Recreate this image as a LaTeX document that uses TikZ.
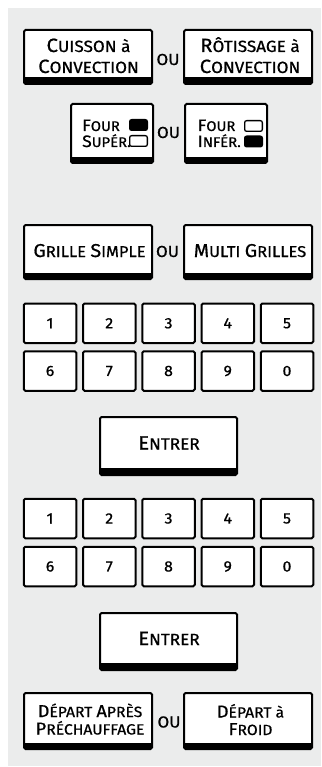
\documentclass[tikz,border=0pt]{standalone}
\usepackage{fontspec}
\setmainfont{Fira Sans}[FakeStretch=1.06, FakeBold=0.7, Numbers=Lining]
\definecolor{panel}{HTML}{EBECEC}
\newcommand\BigA[1]{{\fontsize{19.2pt}{21pt}\selectfont #1}}
\newcommand\BigG[1]{{\fontsize{18.6pt}{21pt}\selectfont #1}}
\newcommand\BigB[1]{{\fontsize{16.5pt}{16pt}\selectfont #1}}
\newcommand\BigC[1]{{\fontsize{17.2pt}{17.5pt}\selectfont #1}}
\begin{document}
\begin{tikzpicture}[x=1pt,y=-1pt,
  btn/.style={draw=black, line width=2pt, fill=white, rounded corners=1.5pt, inner sep=0pt},
  band/.style={path picture={\fill[black, sharp corners] ([yshift=#1]path picture bounding box.south west) rectangle (path picture bounding box.south east);}},
  wide/.style={btn, band=6.5pt, minimum width=128pt, minimum height=54pt},
  four/.style={btn, band=6pt, minimum width=82pt, minimum height=59pt},
  enter/.style={btn, band=7.5pt, minimum width=137pt, minimum height=58pt},
  key/.style={draw=black, line width=2pt, fill=white, rounded corners=1.5pt, inner sep=0pt, minimum width=52.5pt, minimum height=39.5pt, font=\fontsize{15pt}{15pt}\selectfont},
  ind/.style={draw=black, line width=1.3pt, rounded corners=2pt, inner sep=0pt, minimum width=17.7pt, minimum height=10.7pt},
  lblA/.style={inner sep=0pt, align=center, font=\fontsize{16.2pt}{21pt}\selectfont},
  lblG/.style={inner sep=0pt, align=center, font=\fontsize{15.6pt}{21pt}\selectfont},
  lblB/.style={inner sep=0pt, align=left, font=\fontsize{14pt}{16pt}\selectfont},
  lblC/.style={inner sep=0pt, align=center, font=\fontsize{14.8pt}{17.5pt}\selectfont},
  ou/.style={inner sep=0pt, font=\fontsize{16pt}{16pt}\selectfont, anchor=base}
]
\useasboundingbox (0,0) rectangle (321,767);
\fill[panel] (8,8) rectangle (321,766);

% row 1
\node[wide] (cuisson) at (88,57) {};
\node[wide] (rotis) at (248,57) {};
\node[lblA, anchor=base] (cuissonT) at (88.5,73) {\BigA{C}UISSON à\\\BigA{C}ONVECTION};
\node[lblA, anchor=base] (rotisT) at (250,73) {\BigA{R}ÔTISSAGE à\\\BigA{C}ONVECTION};
\node[ou] (ou1) at (168,65) {OU};

% row 2
\node[four] (sup) at (112,133.5) {};
\node[four] (inf) at (226,133.5) {};
\node[lblB, anchor=base west] (supT) at (82,147) {\BigB{F}OUR\\\BigB{S}UPÉR.};
\node[lblB, anchor=base west] (infT) at (197.5,147) {\BigB{F}OUR\\\BigB{I}NFÉR.};
\node[ind, fill=black] (supA) at (138.5,125) {};
\node[ind, fill=white] (supB) at (138.5,141) {};
\node[ind, fill=white] (infA) at (253.5,126) {};
\node[ind, fill=black] (infB) at (253.5,141.5) {};
\node[ou] (ou2) at (168.5,138) {OU};

% row 3
\node[wide] (grille) at (88,252) {};
\node[wide] (multi) at (248,252) {};
\node[lblG, anchor=base] (grilleT) at (89.5,257) {\BigG{G}RILLE \BigG{S}IMPLE};
\node[lblG, anchor=base] (multiT) at (250,257) {\BigG{M}ULTI \BigG{G}RILLES};
\node[ou] (ou3) at (167.5,257) {OU};

% keypads
\foreach \d [count=\i] in {1,2,3,4,5} {
  \pgfmathsetmacro\kx{50+59.25*(\i-1)}
  \node[key] (pA\i) at (\kx,323.3) {\d};
  \node[key] (qA\i) at (\kx,518.5) {\d};
}
\foreach \d [count=\i] in {6,7,8,9,0} {
  \pgfmathsetmacro\kx{50+59.25*(\i-1)}
  \node[key] (pB\i) at (\kx,371) {\d};
  \node[key] (qB\i) at (\kx,566.5) {\d};
}

% enter buttons
\node[enter] (entrer1) at (168.5,446) {};
\node[lblA, anchor=base] (entrer1T) at (169,449.5) {\BigA{E}NTRER};
\node[enter, minimum height=57pt] (entrer2) at (168.5,641.5) {};
\node[lblA, anchor=base] (entrer2T) at (169,645) {\BigA{E}NTRER};

% last row
\node[wide, minimum height=56pt] (depart) at (88,721) {};
\node[wide, minimum height=56pt] (froid) at (248,721) {};
\node[lblC, anchor=base] (departT) at (90,734.5) {\BigC{D}ÉPART \BigC{A}PRÈS\\\BigC{P}RÉCHAUFFAGE};
\node[lblC, anchor=base] (froidT) at (250.5,735) {\BigC{D}ÉPART à\\\BigC{F}ROID};
\node[ou] (ou4) at (169,727.5) {OU};
\end{tikzpicture}
\end{document}
